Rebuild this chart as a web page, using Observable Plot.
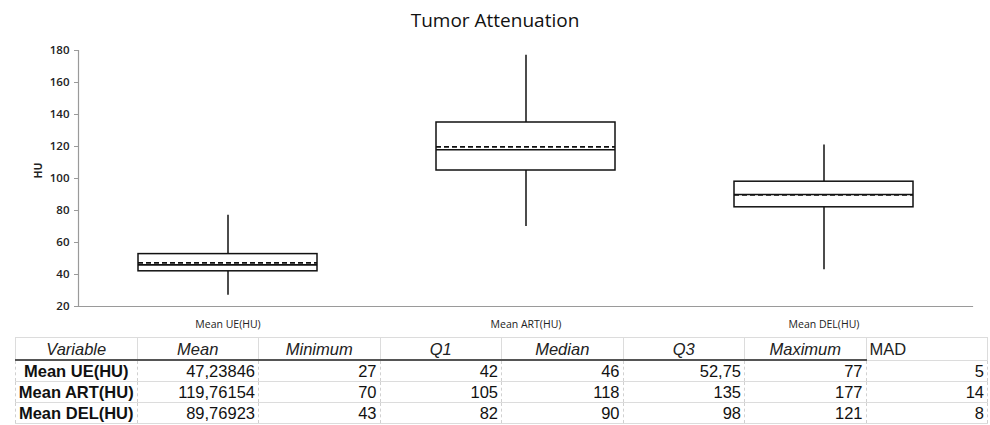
<!DOCTYPE html>
<html>
<head>
<meta charset="utf-8">
<script src="https://cdn.jsdelivr.net/npm/d3@7"></script>
<script src="https://cdn.jsdelivr.net/npm/@observablehq/plot@0.6"></script>
<style>
  html, body { margin: 0; padding: 0; background: #fff; }
  body { width: 990px; height: 425px; overflow: hidden; }
  #title { height: 36px; box-sizing: border-box; padding-top: 8px; font: 19px/24px "Open Sans", sans-serif; color: #111; text-align: center; }
  #chart svg { display: block; }
  #tbl { margin: 4px 0 0 15px; border-collapse: collapse; table-layout: fixed; width: 973px;
         font-family: "Liberation Sans", Arial, sans-serif; font-size: 16.5px; color: #111; }
  #tbl th, #tbl td { padding: 0 3px; overflow: visible; white-space: nowrap; }
  #tbl th { height: 21px; font-weight: normal; font-style: italic; text-align: center; border: 1px solid #dcdcdc; border-bottom: 2.5px solid #555; line-height: 20px; color: #222; }
  #tbl th.mad { font-style: normal; text-align: left; border-bottom: 1px solid #dcdcdc; }
  #tbl td { height: 20px; line-height: 20px; text-align: right; border-left: 1px dashed #d0d0d0; border-right: 1px dashed #d0d0d0; border-bottom: 1px solid #dcdcdc; }
  #tbl td.var { font-weight: bold; text-align: center; padding: 0; }
</style>
</head>
<body>
<div id="title">Tumor Attenuation</div>
<div id="chart"></div>
<table id="tbl"></table>
<script>
const variables = ["Mean UE(HU)", "Mean ART(HU)", "Mean DEL(HU)"];
const means = [47.23846, 119.76154, 89.76923];
const mins = [27, 70, 43];
const q1s = [42, 105, 82];
const medians = [46, 118, 90];
const q3s = [52.75, 135, 98];
const maxs = [77, 177, 121];
const mads = [5, 14, 8];
const yTicks = [20, 40, 60, 80, 100, 120, 140, 160, 180];
const headers = ["Variable", "Mean", "Minimum", "Q1", "Median", "Q3", "Maximum", "MAD"];

const rows = variables.map((v, i) => ({
  v, mean: means[i], min: mins[i], q1: q1s[i], median: medians[i], q3: q3s[i], max: maxs[i], mad: mads[i]
}));

const ink = "#111";
const axisGray = "#9a9a9a";

const chart = Plot.plot({
  width: 990,
  height: 297,
  marginTop: 14,
  marginBottom: 27,
  marginLeft: 78,
  marginRight: 18,
  style: { fontFamily: "'Open Sans', sans-serif", fontSize: "10.5px", color: "#222", background: "white" },
  x: { domain: variables, paddingInner: 0.4, paddingOuter: 0.2, label: null },
  y: { domain: [20, 180], label: null },
  marks: [
    Plot.frame({ anchor: "left", stroke: axisGray, strokeWidth: 1.2 }),
    Plot.frame({ anchor: "bottom", stroke: axisGray, strokeWidth: 1.2 }),
    Plot.axisY({ ticks: yTicks, tickSize: 4, tickPadding: 5, stroke: axisGray, label: null, fontWeight: 600, fontSize: 11.5 }),
    Plot.axisX({ tickSize: 0, tickPadding: 14, label: null }),
    Plot.text(["HU"], { frameAnchor: "left", dx: -40, rotate: -90, fontWeight: "bold", fontSize: 10.5 }),
    Plot.ruleX(rows, { x: "v", y1: "min", y2: "q1", stroke: ink, strokeWidth: 1.5 }),
    Plot.ruleX(rows, { x: "v", y1: "q3", y2: "max", stroke: ink, strokeWidth: 1.5 }),
    Plot.barY(rows, { x: "v", y1: "q1", y2: "q3", fill: "white", stroke: ink, strokeWidth: 1.5 }),
    Plot.tickY(rows, { x: "v", y: "mean", stroke: ink, strokeWidth: 1.6, strokeDasharray: "5,3" }),
    Plot.tickY(rows, { x: "v", y: "median", stroke: ink, strokeWidth: 1.6 })
  ]
});
document.getElementById("chart").append(chart);

const fmt = (n) => String(n).replace(".", ",");
const tbl = d3.select("#tbl");
const hr = tbl.append("tr");
headers.forEach((h, i) => hr.append("th").attr("class", i === headers.length - 1 ? "mad" : null).text(h));
rows.forEach(r => {
  const tr = tbl.append("tr");
  tr.append("td").attr("class", "var").text(r.v);
  [r.mean, r.min, r.q1, r.median, r.q3, r.max, r.mad].forEach(val => tr.append("td").text(fmt(val)));
});
</script>
</body>
</html>
